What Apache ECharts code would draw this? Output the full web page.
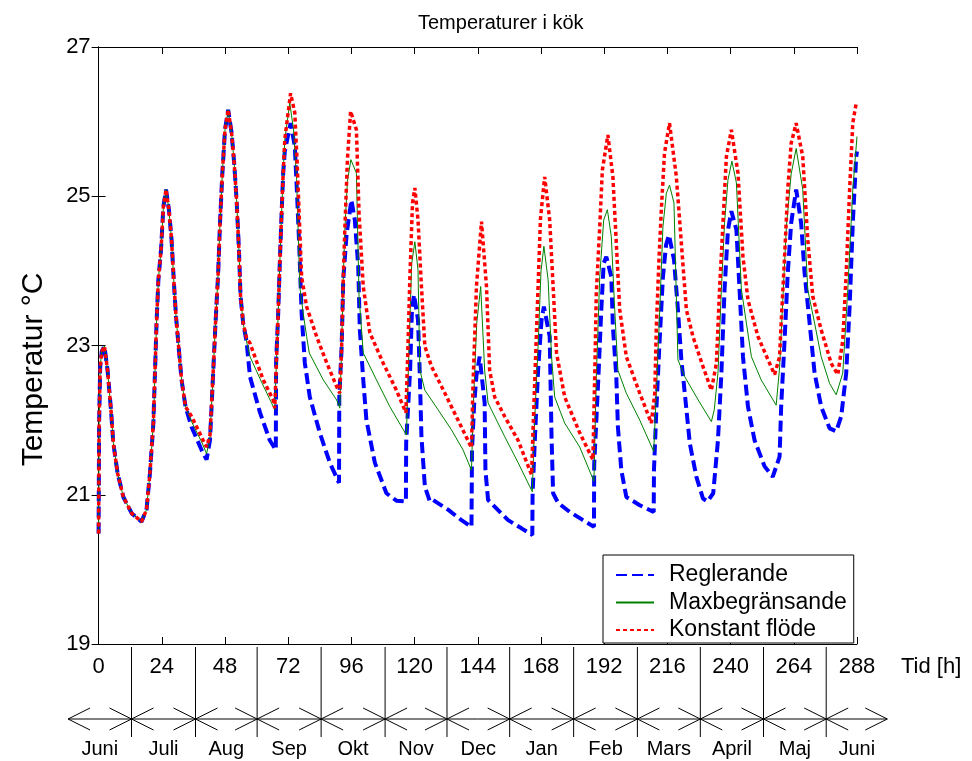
<!DOCTYPE html>
<html>
<head>
<meta charset="utf-8">
<title>Temperaturer i kök</title>
<script src="https://cdn.jsdelivr.net/npm/echarts@6/dist/echarts.min.js"></script>
<style>
    html, body {margin: 0; padding: 0; background: #fff;}
    #main {width: 972px; height: 761px;}
</style>
</head>
<body>
<div id="main"></div>
<script>
// tid [h] och temperatur [°C]
var reglerande = [
    [0, 20.48], [0.2, 21.96], [0.6, 22.71], [1.2, 22.92], [2.2, 22.99], [3.4, 22.67], [4.7, 22.14], [5.6, 21.69],
    [7.2, 21.29], [9.4, 20.97], [12.6, 20.75], [16.3, 20.64], [18.2, 20.80], [19.5, 21.29], [20.8, 21.96], [21.4, 22.63],
    [22.0, 23.30], [22.7, 23.88], [23.7, 24.28], [24.6, 24.86], [25.6, 25.09], [26.7, 24.82], [27.7, 24.42], [28.6, 23.84],
    [29.4, 23.39], [30.5, 22.94], [31.5, 22.54], [33.0, 22.18], [35.3, 21.91], [39.1, 21.60], [41.0, 21.47], [42.3, 21.73],
    [43.5, 22.63], [44.4, 23.30], [45.4, 23.97], [46.1, 24.64], [47.0, 25.31], [48.0, 25.89], [49.2, 26.16], [50.5, 25.85],
    [51.5, 25.44], [52.4, 24.95], [53.3, 24.28], [53.9, 23.66], [54.9, 23.30], [56.2, 23.05], [57.5, 22.58], [61.3, 22.10],
    [65.0, 21.73], [67.3, 21.60], [67.4, 22.77], [68.2, 23.43], [68.8, 24.10], [69.5, 24.78], [70.1, 25.31], [70.7, 25.60],
    [72.9, 25.98], [74.5, 25.67], [75.4, 25.00], [76.2, 24.33], [77.1, 23.43], [78.3, 22.77], [80.2, 22.31], [84.0, 21.83],
    [87.8, 21.43], [91.3, 21.16], [91.4, 22.31], [92.3, 22.99], [92.9, 23.88], [94.2, 24.50], [96.0, 24.95], [97.3, 24.68],
    [98.6, 24.06], [99.2, 23.21], [100.5, 22.54], [101.7, 22.00], [104.9, 21.43], [109.3, 21.02], [113.1, 20.92], [116.7, 20.91],
    [116.8, 21.70], [118.3, 22.67], [119.0, 23.48], [119.8, 23.68], [121.3, 23.34], [122.0, 22.58], [122.6, 21.78], [123.9, 21.11],
    [125.8, 20.91], [127.0, 20.93], [132.7, 20.80], [137.8, 20.66], [141.6, 20.57], [141.8, 21.60], [142.6, 22.20], [143.5, 22.60],
    [144.7, 22.85], [146.6, 22.23], [146.9, 21.33], [147.9, 20.93], [150.4, 20.84], [155.5, 20.66], [160.6, 20.55], [164.7, 20.46],
    [164.8, 21.00], [165.6, 21.69], [166.9, 22.67], [168.2, 23.34], [169.1, 23.52], [171.3, 23.12], [172.0, 21.78], [172.6, 21.02],
    [174.5, 20.89], [178.9, 20.77], [183.5, 20.67], [188.1, 20.57], [188.2, 21.40], [189.8, 22.58], [190.9, 23.48], [191.8, 24.10],
    [192.8, 24.19], [194.7, 23.92], [195.3, 23.25], [196.6, 22.58], [197.2, 21.91], [198.5, 21.33], [200.4, 20.97], [205.5, 20.86],
    [210.8, 20.77], [210.9, 21.33], [211.8, 22.14], [213.0, 23.03], [214.3, 23.92], [215.5, 24.35], [216.6, 24.48], [218.5, 24.15],
    [220.0, 23.48], [221.3, 22.81], [222.6, 22.36], [224.5, 21.69], [227.0, 21.24], [229.5, 20.95], [231.2, 20.91], [233.4, 21.02],
    [235.2, 21.73], [236.5, 22.63], [237.7, 23.75], [239.0, 24.55], [240.3, 24.80], [242.2, 24.55], [243.4, 23.75], [244.7, 22.85],
    [246.6, 22.18], [249.1, 21.73], [252.9, 21.38], [256.0, 21.24], [258.6, 21.51], [259.2, 22.18], [260.5, 23.07], [261.7, 23.97],
    [263.0, 24.64], [264.9, 25.09], [266.8, 24.64], [268.1, 23.97], [270.0, 23.30], [271.9, 22.63], [274.4, 22.18], [277.6, 21.89],
    [280.1, 21.85], [282.0, 22.05], [283.9, 22.63], [285.2, 23.52], [286.4, 24.64], [287.7, 25.53], [288, 25.60]
];

var maxbegransande = [
    [0, 20.48], [0.2, 21.96], [0.6, 22.71], [1.2, 22.92], [2.2, 22.99], [3.4, 22.67], [4.7, 22.14], [5.6, 21.69],
    [7.2, 21.29], [9.4, 20.97], [12.6, 20.75], [16.3, 20.64], [18.2, 20.80], [19.5, 21.29], [20.8, 21.96], [21.4, 22.63],
    [22.0, 23.30], [22.7, 23.88], [23.7, 24.28], [24.6, 24.86], [25.6, 25.09], [26.7, 24.82], [27.7, 24.42], [28.6, 23.84],
    [29.4, 23.39], [30.5, 22.94], [31.5, 22.54], [33.0, 22.18], [35.3, 21.98], [39.5, 21.68], [41.0, 21.55], [42.3, 21.76],
    [43.5, 22.63], [44.4, 23.30], [45.4, 23.97], [46.1, 24.64], [47.0, 25.31], [48.0, 25.89], [49.2, 26.16], [50.5, 25.85],
    [51.5, 25.44], [52.4, 24.95], [53.3, 24.28], [53.9, 23.66], [54.9, 23.30], [56.2, 23.05], [57.5, 22.85], [62.0, 22.50],
    [66.9, 22.14], [68.2, 23.43], [68.8, 24.10], [69.5, 24.78], [70.1, 25.31], [70.7, 25.76], [72.6, 26.25], [74.0, 25.90],
    [75.2, 25.22], [76.4, 23.79], [77.7, 23.43], [79.0, 23.12], [80.0, 22.90], [85.3, 22.54], [90.4, 22.27], [91.6, 22.16],
    [92.3, 22.99], [92.9, 23.88], [93.5, 24.55], [94.5, 25.20], [95.8, 25.49], [97.9, 25.31], [98.9, 23.66], [100.5, 22.90],
    [105.5, 22.54], [110.6, 22.18], [116.9, 21.80], [117.9, 23.00], [118.9, 24.10], [120.1, 24.39], [121.3, 24.01], [122.0, 22.67],
    [123.9, 22.40], [128.9, 22.14], [134.0, 21.87], [138.4, 21.60], [141.6, 21.33], [142.3, 22.20], [143.6, 23.30], [145.1, 23.79],
    [146.6, 22.67], [147.9, 22.23], [154.2, 21.78], [159.3, 21.43], [164.7, 21.04], [165.6, 22.00], [166.9, 23.00], [168.0, 24.00],
    [169.1, 24.33], [170.7, 23.88], [172.0, 22.85], [173.2, 22.31], [177.0, 21.96], [182.7, 21.64], [188.1, 21.18], [189.0, 22.58],
    [190.3, 23.92], [191.8, 24.68], [193.2, 24.82], [194.7, 24.46], [196.0, 23.48], [197.2, 22.67], [200.4, 22.36], [205.5, 22.00],
    [210.8, 21.58], [211.8, 22.36], [213.1, 23.48], [214.3, 24.59], [215.6, 25.04], [216.8, 25.15], [218.5, 24.91], [220.0, 22.81],
    [222.6, 22.58], [227.7, 22.27], [232.7, 21.98], [233.8, 22.14], [235.2, 22.63], [236.5, 23.75], [237.7, 24.64], [239.0, 25.22],
    [240.5, 25.47], [242.2, 25.18], [244.1, 23.75], [246.0, 23.30], [247.9, 22.85], [251.6, 22.54], [257.3, 22.20], [258.6, 22.70],
    [259.8, 23.60], [261.2, 24.60], [263.0, 25.30], [264.9, 25.64], [267.4, 25.09], [269.3, 23.75], [271.9, 23.30], [274.4, 22.85],
    [277.6, 22.49], [280.1, 22.34], [282.6, 22.63], [284.5, 23.75], [286.4, 25.09], [288, 25.80]
];

var konstantFlode = [
    [0, 20.48], [0.2, 21.96], [0.6, 22.71], [1.2, 22.92], [2.2, 22.99], [3.4, 22.67], [4.7, 22.14], [5.6, 21.69],
    [7.2, 21.29], [9.4, 20.97], [12.6, 20.75], [16.3, 20.64], [18.2, 20.80], [19.5, 21.29], [20.8, 21.96], [21.4, 22.63],
    [22.0, 23.30], [22.7, 23.88], [23.7, 24.28], [24.6, 24.86], [25.6, 25.09], [26.7, 24.82], [27.7, 24.42], [28.6, 23.84],
    [29.4, 23.39], [30.5, 22.94], [31.5, 22.54], [33.0, 22.18], [35.3, 22.05], [39.7, 21.73], [41.0, 21.64], [42.3, 21.80],
    [43.5, 22.63], [44.4, 23.30], [45.4, 23.97], [46.1, 24.64], [47.0, 25.31], [48.0, 25.89], [49.2, 26.16], [50.5, 25.85],
    [51.5, 25.44], [52.4, 24.95], [53.3, 24.28], [53.9, 23.66], [54.9, 23.30], [56.2, 23.10], [57.5, 23.03], [62.5, 22.54],
    [66.3, 22.27], [66.9, 22.16], [68.2, 23.43], [68.8, 24.10], [69.5, 24.78], [70.1, 25.31], [70.7, 25.76], [72.9, 26.38],
    [74.5, 26.12], [75.4, 25.45], [76.4, 24.55], [77.1, 23.92], [79.0, 23.52], [82.8, 23.12], [86.6, 22.77], [90.4, 22.45],
    [91.6, 22.36], [92.3, 22.99], [92.9, 23.88], [93.5, 24.55], [94.5, 25.50], [95.7, 26.14], [97.9, 25.89], [98.9, 24.78],
    [100.5, 23.79], [103.0, 23.17], [108.0, 22.77], [113.1, 22.40], [116.7, 22.10], [117.4, 22.90], [118.2, 23.90], [119.2, 24.91],
    [120.1, 25.11], [121.3, 24.68], [122.6, 23.79], [123.9, 22.99], [126.4, 22.72], [131.5, 22.36], [136.5, 22.00], [141.6, 21.63],
    [142.2, 22.50], [143.5, 23.80], [145.4, 24.66], [147.3, 23.79], [148.5, 22.67], [150.4, 22.31], [154.2, 22.05], [159.3, 21.73],
    [164.4, 21.27], [165.4, 22.30], [166.7, 23.60], [167.8, 24.70], [169.4, 25.26], [171.3, 24.68], [172.6, 23.79], [173.9, 22.90],
    [177.0, 22.31], [182.7, 21.83], [187.7, 21.47], [188.4, 22.58], [189.0, 23.70], [190.3, 24.59], [191.3, 25.35], [193.4, 25.82],
    [195.3, 25.26], [196.6, 24.37], [197.9, 23.48], [200.4, 22.85], [205.5, 22.36], [209.9, 21.96], [211.2, 22.36], [211.8, 23.25],
    [212.8, 24.15], [213.7, 24.82], [214.9, 25.58], [216.8, 25.98], [219.4, 25.26], [221.3, 24.37], [223.2, 23.48], [225.7, 23.12],
    [229.5, 22.72], [232.7, 22.40], [234.6, 22.76], [235.8, 23.75], [237.1, 24.64], [238.4, 25.53], [240.3, 25.89], [242.8, 25.31],
    [244.7, 24.19], [246.6, 23.61], [250.4, 23.12], [254.2, 22.81], [256.7, 22.61], [258.6, 22.85], [259.2, 23.30], [260.5, 24.19],
    [261.7, 25.09], [263.0, 25.71], [264.9, 25.98], [267.4, 25.53], [269.3, 24.42], [271.2, 23.66], [274.4, 23.21], [278.2, 22.76],
    [280.7, 22.61], [282.6, 23.07], [283.9, 23.97], [285.2, 25.09], [286.4, 25.98], [287.7, 26.25], [288, 26.25]
];

// månadsgränser på tidsaxeln [h] och månadsnamn
var monthEdges = [-11.6, 12.5, 36.8, 60.2, 84.5, 108.8, 132.3, 156.1, 180.4, 204.6, 228.5, 252.5, 276.3, 299.5];
var monthNames = ['Juni', 'Juli', 'Aug', 'Sep', 'Okt', 'Nov', 'Dec', 'Jan', 'Feb', 'Mars', 'April', 'Maj', 'Juni'];

var font = 'Liberation Sans, Arial, sans-serif';

var chart = echarts.init(document.getElementById('main'));

var option = {
    animation: false,
    backgroundColor: '#fff',
    title: {
        text: 'Temperaturer i kök',
        left: 413,
        top: 8,
        textStyle: {fontFamily: font, fontSize: 20, fontWeight: 'normal', color: '#000'}
    },
    grid: {left: 98.6, right: 115, top: 47, bottom: 117, containLabel: false},
    legend: {
        orient: 'vertical',
        left: 603,
        top: 555,
        padding: [8, 7, 1, 12],
        itemWidth: 38,
        itemHeight: 14,
        itemGap: 3.5,
        selectedMode: false,
        borderColor: '#000',
        borderWidth: 1,
        backgroundColor: '#fff',
        itemStyle: {opacity: 0},
        textStyle: {fontFamily: font, fontSize: 23, color: '#000', lineHeight: 24, padding: [0, 0, 0, 10]},
        data: ['Reglerande', 'Maxbegränsande', 'Konstant flöde']
    },
    xAxis: [{
        type: 'value',
        position: 'bottom',
        min: 0, max: 288, interval: 24,
        name: 'Tid [h]',
        nameLocation: 'end',
        nameGap: 44,
        nameTextStyle: {fontFamily: font, fontSize: 22, color: '#000', verticalAlign: 'top', padding: [12, 0, 0, 0]},
        axisLine: {lineStyle: {color: '#000', width: 1}},
        axisTick: {inside: true, length: 7, lineStyle: {color: '#000'}},
        axisLabel: {fontFamily: font, fontSize: 22, color: '#000', margin: 12},
        splitLine: {show: false}
    }, {
        type: 'value',
        position: 'top',
        min: 0, max: 288, interval: 24,
        axisLine: {lineStyle: {color: '#000', width: 1}},
        axisTick: {inside: true, length: 7, lineStyle: {color: '#000'}},
        axisLabel: {show: false},
        splitLine: {show: false}
    }],
    yAxis: [{
        type: 'value',
        position: 'left',
        min: 19, max: 27, interval: 2,
        name: 'Temperatur °C',
        nameLocation: 'middle',
        nameRotate: 90,
        nameGap: 50,
        nameTextStyle: {fontFamily: font, fontSize: 30, color: '#000', padding: [0, 48, 0, 0]},
        axisLine: {show: true, lineStyle: {color: '#000', width: 1}},
        axisTick: {show: true, inside: true, length: 7, lineStyle: {color: '#000'}},
        axisLabel: {fontFamily: font, fontSize: 22, color: '#000', margin: 8},
        splitLine: {show: false}
    }, {
        type: 'value',
        position: 'right',
        min: 19, max: 27, interval: 2,
        axisLine: {show: true, lineStyle: {color: '#000', width: 1}},
        axisTick: {show: true, inside: true, length: 7, lineStyle: {color: '#000'}},
        axisLabel: {show: false},
        splitLine: {show: false}
    }],
    series: [{
        name: 'Reglerande',
        type: 'line',
        data: reglerande,
        showSymbol: false,
        symbol: 'none',
        lineStyle: {color: '#0000ff', width: 4, type: [11, 5]},
        itemStyle: {color: '#0000ff'}
    }, {
        name: 'Maxbegränsande',
        type: 'line',
        data: maxbegransande,
        showSymbol: false,
        symbol: 'none',
        lineStyle: {color: '#008000', width: 1},
        itemStyle: {color: '#008000'}
    }, {
        name: 'Konstant flöde',
        type: 'line',
        data: konstantFlode,
        showSymbol: false,
        symbol: 'none',
        lineStyle: {color: '#ff0000', width: 3.5, type: [4, 3]},
        itemStyle: {color: '#ff0000'}
    }]
};

chart.setOption(option);

// månadstidslinjen under x-axeln, placerad via axelns skala
var arrowY = 719;
var graphics = [];
var px = function (h) {
    return chart.convertToPixel({xAxisIndex: 0}, h);
};
var first = px(monthEdges[0]);
var last = px(monthEdges[monthEdges.length - 1]);
graphics.push({type: 'line', shape: {x1: first, y1: arrowY, x2: last, y2: arrowY}, style: {stroke: '#000', lineWidth: 1}});
for (var i = 0; i < monthEdges.length; i++) {
    var x = px(monthEdges[i]);
    if (i > 0 && i < monthEdges.length - 1) {
        graphics.push({type: 'line', shape: {x1: x, y1: 647, x2: x, y2: 737}, style: {stroke: '#000', lineWidth: 1}});
    }
    // pilspetsar: höger om gränsen pekar åt vänster, vänster om pekar åt höger
    if (i < monthEdges.length - 1) {
        graphics.push({type: 'polyline', shape: {points: [[x + 22, arrowY - 11], [x, arrowY], [x + 22, arrowY + 11]]}, style: {stroke: '#000', lineWidth: 1, fill: null}});
    }
    if (i > 0) {
        graphics.push({type: 'polyline', shape: {points: [[x - 22, arrowY - 11], [x, arrowY], [x - 22, arrowY + 11]]}, style: {stroke: '#000', lineWidth: 1, fill: null}});
    }
}
for (var j = 0; j < monthNames.length; j++) {
    var cx = (px(monthEdges[j]) + px(monthEdges[j + 1])) / 2;
    graphics.push({
        type: 'text',
        x: cx,
        y: 749,
        style: {text: monthNames[j], fontFamily: font, fontSize: 20, fill: '#000', align: 'center', verticalAlign: 'middle'}
    });
}
chart.setOption({graphic: graphics});
</script>
</body>
</html>
